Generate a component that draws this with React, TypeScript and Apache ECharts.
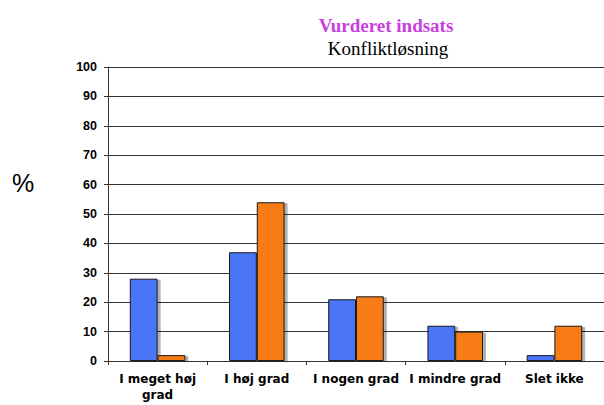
import React, { useEffect, useRef } from "react";
import * as echarts from "echarts";

const categories = ["I meget høj\ngrad", "I høj grad", "I nogen grad", "I mindre grad", "Slet ikke"];
const seriesA = [28, 37, 21, 12, 2];
const seriesB = [2, 54, 22, 10, 12];
const yTicks = { min: 0, max: 100, interval: 10 };

export default function App() {
  const ref = useRef<HTMLDivElement>(null);
  useEffect(() => {
    const chart = echarts.init(ref.current!, null, { renderer: "svg" });
    const barStyle = (color: string) => ({
      color,
      borderColor: "#1a1a1a",
      borderWidth: 1,
      shadowColor: "rgba(0,0,0,0.3)",
      shadowOffsetX: 3,
      shadowOffsetY: 1,
      shadowBlur: 1,
    });
    chart.setOption({
      animation: false,
      backgroundColor: "#ffffff",
      title: [
        {
          text: "Vurderet indsats",
          left: 381,
          top: 11,
          textAlign: "center",
          textStyle: { fontFamily: "Liberation Serif", fontSize: 19, fontWeight: "bold", color: "#c840e0" },
        },
        {
          text: "Konfliktløsning",
          left: 383,
          top: 34,
          textAlign: "center",
          textStyle: { fontFamily: "Liberation Serif", fontSize: 19, fontWeight: "normal", color: "#000000" },
        },
      ],
      graphic: [
        {
          type: "text",
          left: 12,
          top: 170,
          style: { text: "%", fontFamily: "Liberation Sans", fontSize: 25, fill: "#000" },
        },
      ],
      grid: { left: 108, right: -1, top: 67, bottom: 44, containLabel: false },
      xAxis: {
        type: "category",
        data: categories,
        axisLine: { show: true, lineStyle: { color: "#333", width: 1 } },
        axisTick: { show: true, length: 4, alignWithLabel: false, lineStyle: { color: "#333" } },
        axisLabel: {
          interval: 0,
          margin: 10,
          fontFamily: "DejaVu Sans",
          fontWeight: "bold",
          fontSize: 12,
          color: "#000",
          lineHeight: 16,
        },
      },
      yAxis: {
        type: "value",
        min: yTicks.min,
        max: yTicks.max,
        interval: yTicks.interval,
        axisLine: { show: true, lineStyle: { color: "#333", width: 1 } },
        axisTick: { show: true, length: 4, lineStyle: { color: "#333" } },
        splitLine: { show: true, lineStyle: { color: "#333", width: 1 } },
        axisLabel: {
          margin: 11,
          fontFamily: "Liberation Sans",
          fontWeight: "bold",
          fontSize: 12.5,
          color: "#000",
        },
      },
      series: [
        {
          type: "bar",
          data: seriesA,
          barGap: "0%",
          barCategoryGap: "44%",
          itemStyle: barStyle("#4a74f6"),
        },
        {
          type: "bar",
          data: seriesB,
          barGap: "0%",
          barCategoryGap: "44%",
          itemStyle: barStyle("#f77b12"),
        },
      ],
    });
    return () => chart.dispose();
  }, []);
  return <div ref={ref} style={{ width: 604, height: 405, position: "absolute", left: 0, top: 0 }} />;
}
